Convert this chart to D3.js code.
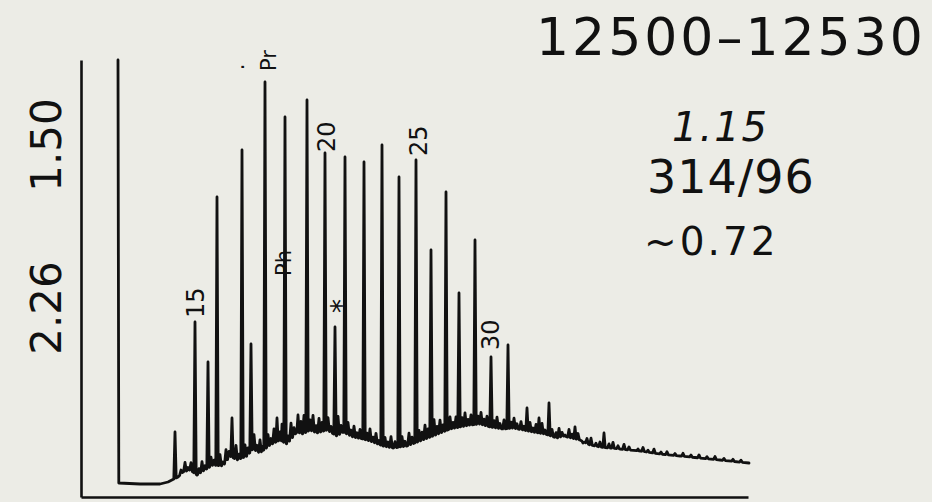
<!DOCTYPE html>
<html>
<head>
<meta charset="utf-8">
<script src="https://cdn.jsdelivr.net/npm/d3@7"></script>
<style>
  html, body { margin: 0; padding: 0; background: #ecece6; }
  svg { display: block; }
  text { font-family: "DejaVu Sans", "Liberation Sans", sans-serif; fill: #111; }
</style>
</head>
<body>
<svg id="chart" width="932" height="502"></svg>
<script>
// ---------------- DATA ----------------
// retention time (min) and detector response (arbitrary units)
const solventPeak = { t: 3.7, r: 437 };

// baseline / unresolved hump: [time, response]
const baselineT = [3.8, 5.9, 7.9, 8.7, 9.7, 10.2, 10.9, 11.6, 12.2, 13.2, 14.2, 14.9, 15.6, 16.6, 17.2, 17.9,
  18.9, 19.9, 20.6, 21.6, 22.2, 22.9, 23.6, 24.6, 25.6, 26.2, 27.2, 28.2, 28.9, 30.2, 31.2, 32.6, 33.9,
  35.2, 36.9, 37.9, 38.9, 39.9, 40.9, 42.2, 43.2, 45.2, 46.4, 47.6, 48.2, 49.9, 50.9, 51.9, 53.9, 55.9,
  57.9, 59.9, 61.9, 63.9, 66.8];
const baselineR = [14, 13, 13, 15, 20, 25, 27, 22, 26, 32, 31, 41, 37, 41, 48, 44,
  52, 57, 53, 65, 63, 67, 64, 67, 61, 65, 60, 58, 56, 51, 49, 51, 56,
  61, 68, 70, 72, 73, 70, 68, 69, 65, 63, 59, 61, 57, 52, 50, 48, 46,
  43, 41, 39, 37, 34];

// resolved peaks (apex response)
const peakT = [9.4, 11.4, 12.7, 13.6, 15.1, 16.1, 17.0, 18.4, 19.6, 20.4, 21.7, 22.6, 24.4, 25.4, 26.4,
  28.3, 30.1, 31.8, 33.5, 35.0, 36.5, 37.8, 39.4, 41.0, 42.7, 44.6, 45.8, 46.8, 48.4, 49.4, 50.2, 52.3, 55.7];
const peakR = [65, 175, 135, 300, 79, 347, 153, 415, 79, 380, 82, 397, 344, 170, 340,
  335, 352, 320, 337, 247, 305, 204, 257, 140, 152, 89, 79, 94, 62, 70, 54, 64, 48];

// minor spikes: time and height above the local hump
const minorT = [10.0, 10.4, 10.7, 11.0, 11.8, 12.1, 12.4, 13.0, 13.3, 13.9, 14.2, 14.5, 14.8, 15.5, 15.8,
  16.4, 16.7, 17.3, 17.6, 17.9, 18.1, 18.7, 19.0, 19.3, 19.9, 20.1, 20.7, 21.0, 21.3, 22.0, 22.3, 22.9,
  23.2, 23.5, 23.8, 24.1, 24.7, 25.0, 25.7, 26.0, 26.7, 27.0, 27.3, 27.6, 27.9, 28.6, 28.9, 29.2, 29.5,
  29.8, 30.4, 30.7, 31.0, 31.4, 32.1, 32.4, 32.8, 33.1, 33.8, 34.1, 34.4, 34.7, 35.3, 35.6, 35.9, 36.2,
  36.9, 37.2, 37.5, 38.1, 38.4, 38.7, 39.0, 39.7, 40.0, 40.3, 40.6, 41.3, 41.6, 41.9, 42.3, 43.0, 43.3,
  43.6, 44.0, 44.3, 44.9, 45.2, 45.5, 46.1, 46.4, 47.1, 47.5, 47.8, 48.1, 48.8, 49.1, 49.7, 50.6, 51.0,
  51.5, 51.9, 52.8, 53.2, 53.7, 54.3, 54.8, 56.2, 56.7, 57.3, 58.0, 58.6, 59.4, 60.2, 61.0, 61.8, 62.6,
  63.4, 64.3, 65.2, 66.0];
const minorH = [4, 9, 3, 8, 5, 10, 4, 9, 5, 11, 4, 12, 6, 14, 5,
  12, 7, 15, 6, 13, 5, 12, 6, 14, 8, 17, 7, 16, 8, 12, 18, 10,
  16, 7, 14, 9, 13, 6, 19, 8, 12, 6, 11, 5, 9, 7, 12, 5, 10,
  4, 9, 5, 11, 6, 10, 5, 12, 7, 11, 8, 14, 9, 16, 8, 13, 7,
  12, 6, 11, 9, 13, 6, 10, 8, 12, 6, 10, 7, 11, 5, 9, 6, 10,
  5, 8, 4, 9, 4, 8, 10, 4, 7, 5, 9, 4, 8, 4, 6, 5, 7,
  3, 5, 4, 6, 3, 5, 3, 4, 2, 4, 2, 3, 2, 3, 2, 3, 2,
  3, 2, 2, 2];

// peak identifications
const labelText = ["15", "Pr", "Ph", "20", "*", "25", "30"];
const labelT = [11.4, 18.4, 20.4, 24.4, 25.4, 33.5, 41.0];

// attenuation marks on the left
const attenLabels = ["1.50", "2.26"];

// sample annotations
const sampleTitle = "12500–12530";
const sampleNotes = ["1.15", "314/96", "~0.72"];

// ---------------- CHART ----------------
const svg = d3.select("#chart");
const x = d3.scaleLinear().domain([0, 66.7]).range([81, 748]);
const y = d3.scaleLinear().domain([0, 437]).range([497, 60]);

const baseAt = t => {
  const i = d3.bisectLeft(baselineT, t);
  if (i <= 0) return baselineR[0];
  if (i >= baselineT.length) return baselineR[baselineT.length - 1];
  const t0 = baselineT[i - 1], t1 = baselineT[i];
  const f = (t - t0) / (t1 - t0);
  return baselineR[i - 1] + f * (baselineR[i] - baselineR[i - 1]);
};

// build peak events
const events = [];
peakT.forEach((t, i) => events.push({ t, r: peakR[i], w: 0.12 }));
minorT.forEach((t, i) => events.push({ t, r: baseAt(t) + minorH[i], w: 0.14 }));
events.sort((a, b) => a.t - b.t);

const pts = [[solventPeak.t, solventPeak.r], [solventPeak.t + 0.08, baseAt(solventPeak.t + 0.08)]];
let cursor = solventPeak.t + 0.08;
events.forEach(ev => {
  const l = Math.max(ev.t - ev.w, cursor);
  baselineT.forEach((bt, k) => {
    if (bt > cursor && bt < l) pts.push([bt, baselineR[k]]);
  });
  if (l > cursor) pts.push([l, baseAt(l)]);
  pts.push([ev.t, ev.r]);
  const rr = ev.t + ev.w;
  pts.push([rr, baseAt(rr)]);
  cursor = rr;
});
baselineT.forEach((bt, k) => { if (bt > cursor) pts.push([bt, baselineR[k]]); });

const line = d3.line().x(d => x(d[0])).y(d => y(d[1]));

// axes (bare lines, as on the recorder chart)
svg.append("g").attr("transform", `translate(${x(0)},0)`)
  .call(d3.axisLeft(y).ticks(0).tickSizeOuter(0));
svg.append("g").attr("transform", `translate(0,${y(0)})`)
  .call(d3.axisBottom(x).ticks(0).tickSizeOuter(0));
svg.selectAll(".domain").attr("stroke", "#111").attr("stroke-width", 2.6);

svg.append("path")
  .attr("d", line(pts))
  .attr("fill", "none")
  .attr("stroke", "#111")
  .attr("stroke-width", 2.8)
  .attr("stroke-linejoin", "round")
  .attr("stroke-linecap", "round");

// peak labels (rotated)
const labelStyle = {
  "15": { dx: 0, dy: -4, size: 24 },
  "Pr": { dx: 3, dy: -11, size: 21 },
  "Ph": { dx: -2, abs: 276, size: 21 },
  "20": { dx: 1, dy: -1, size: 24 },
  "*": { dx: 1, center: 306, size: 28 },
  "25": { dx: 2, dy: -4, size: 24 },
  "30": { dx: -1, dy: -7, size: 24 }
};
labelText.forEach((txt, i) => {
  const st = labelStyle[txt];
  const pi = peakT.indexOf(labelT[i]);
  const cx = x(labelT[i]) + st.dx;
  const t = svg.append("text").attr("font-size", st.size).text(txt);
  if (st.center !== undefined) {
    t.attr("transform", `translate(${cx},${st.center}) rotate(-90)`)
      .attr("text-anchor", "middle").attr("dy", "0.52em");
  } else {
    const yStart = st.abs !== undefined ? st.abs : y(peakR[pi]) + st.dy;
    t.attr("transform", `translate(${cx},${yStart}) rotate(-90)`)
      .attr("text-anchor", "start").attr("dy", "0.36em");
  }
});
// small dot left of Pr
svg.append("text").attr("font-size", 21)
  .attr("transform", `translate(${x(labelT[1]) - 23},67) rotate(-90)`)
  .attr("text-anchor", "middle").attr("dy", "0.1em").text(".");

// attenuation labels
const attenY = [145, 308];
attenLabels.forEach((txt, i) => {
  svg.append("text").attr("font-size", 42)
    .attr("transform", `translate(46,${attenY[i]}) rotate(-90)`)
    .attr("text-anchor", "middle").attr("dy", "0.36em").text(txt);
});

// annotations
svg.append("text").attr("x", 536).attr("y", 55).attr("font-size", 52)
  .attr("letter-spacing", 3).text(sampleTitle);
svg.append("text").attr("x", 672).attr("y", 141).attr("font-size", 40)
  .attr("font-style", "italic").attr("letter-spacing", 2).text(sampleNotes[0]);
svg.append("text").attr("x", 647).attr("y", 193).attr("font-size", 46)
  .attr("letter-spacing", 1).text(sampleNotes[1]);
svg.append("text").attr("x", 644).attr("y", 255).attr("font-size", 39)
  .attr("letter-spacing", 3).text(sampleNotes[2]);
</script>
</body>
</html>
